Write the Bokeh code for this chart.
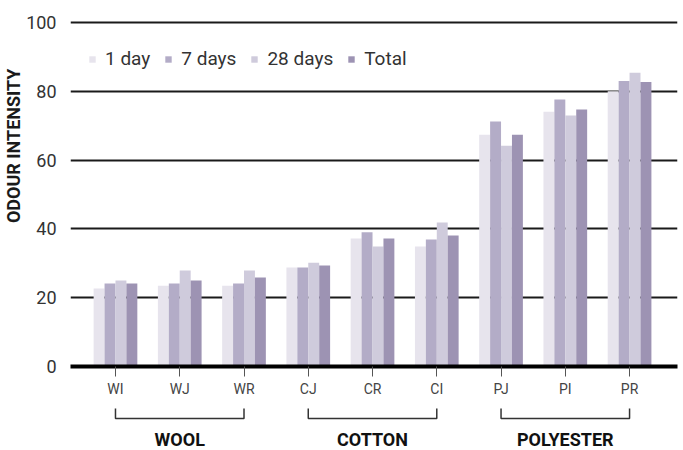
from bokeh.plotting import figure
from bokeh.models import (ColumnDataSource, Range1d, FixedTicker, Legend, LegendItem, Title)
from bokeh.layouts import column
from bokeh.core.properties import value
from bokeh.embed import file_html
from bokeh.resources import INLINE

categories = ["WI", "WJ", "WR", "CJ", "CR", "CI", "PJ", "PI", "PR"]
series_names = ["1 day", "7 days", "28 days", "Total"]
day1 = [22.7, 23.5, 23.5, 28.8, 37.2, 34.9, 67.4, 74.1, 80.0]
day7 = [24.1, 24.1, 24.1, 28.8, 39.0, 36.9, 71.2, 77.6, 83.0]
day28 = [25.0, 27.9, 27.9, 30.2, 34.9, 41.9, 64.2, 73.0, 85.4]
total = [24.1, 25.0, 25.9, 29.4, 37.2, 38.1, 67.4, 74.7, 82.7]
groups = ["WOOL", "COTTON", "POLYESTER"]
group_first = ["WI", "CJ", "PJ"]
group_last = ["WR", "CI", "PR"]
y_ticks = [0, 20, 40, 60, 80, 100]

colors = ["#e7e4ed", "#b3acc7", "#cfcbdc", "#9d93b3"]
FONT = "Roboto"

pos = list(range(len(categories)))
bar_w = 0.17
offsets = [-1.5 * bar_w, -0.5 * bar_w, 0.5 * bar_w, 1.5 * bar_w]

x_range = Range1d(-0.70, 8.746)

p = figure(frame_width=607, frame_height=346, x_range=x_range, y_range=Range1d(0, 100.6),
           output_backend="svg", toolbar_location=None,
           min_border_left=70, min_border_right=6, min_border_top=20, min_border_bottom=40)
p.outline_line_color = None
p.background_fill_color = "white"

items = []
for name, vals, off, col in zip(series_names, [day1, day7, day28, total], offsets, colors):
    src = ColumnDataSource(dict(x=[i + off for i in pos], top=vals))
    r = p.vbar(x="x", top="top", width=bar_w, bottom=0, source=src,
               fill_color=col, line_color=None)
    items.append(LegendItem(label=name, renderers=[r]))

legend = Legend(items=items, orientation="horizontal", location=(18, 296),
                padding=0, margin=0, spacing=14, label_standoff=9,
                glyph_width=8, glyph_height=8,
                label_text_font=FONT, label_text_font_size="19px",
                label_text_color="#333333",
                background_fill_alpha=0, border_line_color=None)
p.add_layout(legend, "center")

# x axis
p.xaxis.ticker = FixedTicker(ticks=pos)
p.xaxis.major_label_overrides = {i: c for i, c in zip(pos, categories)}
p.xaxis.axis_line_color = "black"
p.xaxis.axis_line_width = 4
p.xaxis.major_tick_line_color = "#555555"
p.xaxis.major_tick_line_width = 1
p.xaxis.major_tick_out = 10
p.xaxis.major_tick_in = 0
p.xaxis.minor_tick_line_color = None
p.xaxis.major_label_text_font = FONT
p.xaxis.major_label_text_font_size = "14px"
p.xaxis.major_label_text_color = "#444444"
p.xaxis.major_label_standoff = 4

# y axis
p.yaxis.ticker = FixedTicker(ticks=y_ticks)
p.yaxis.axis_line_color = None
p.yaxis.major_tick_line_color = None
p.yaxis.minor_tick_line_color = None
p.yaxis.major_label_text_font = FONT
p.yaxis.major_label_text_font_size = "18px"
p.yaxis.major_label_text_color = "#333333"
p.yaxis.major_label_standoff = 8

ylabel = Title(text="ODOUR INTENSITY", align="right", offset=48,
               text_font=FONT, text_font_size="18px", text_font_style="bold",
               text_color="#1a1a1a", standoff=0)
p.add_layout(ylabel, "left")

p.xgrid.grid_line_color = None
p.ygrid.ticker = FixedTicker(ticks=[t for t in y_ticks if t > 0])
p.ygrid.grid_line_color = "#1a1a1a"
p.ygrid.grid_line_width = 2

# group brackets figure
p2 = figure(frame_width=607, frame_height=44, x_range=x_range, y_range=Range1d(44, 0),
            output_backend="svg", toolbar_location=None,
            x_axis_location=None, y_axis_location=None,
            min_border_left=70, min_border_right=6, min_border_top=0, min_border_bottom=0)
p2.outline_line_color = None
p2.xgrid.grid_line_color = None
p2.ygrid.grid_line_color = None

xs, ys, cx = [], [], []
for f, l in zip(group_first, group_last):
    a = categories.index(f)
    b = categories.index(l)
    xs.append([a, a, b, b])
    ys.append([2, 12, 12, 2])
    cx.append((a + b) / 2)
p2.multi_line(xs=xs, ys=ys, line_color="#333333", line_width=1.5)
p2.text(x=cx, y=[33] * len(cx), text=groups, text_font=value(FONT),
        text_font_size="18px", text_font_style="bold", text_color="#111111",
        text_align="center", text_baseline="middle")

layout = column(p, p2, spacing=0)
open("out.html", "w").write(file_html(layout, INLINE))
